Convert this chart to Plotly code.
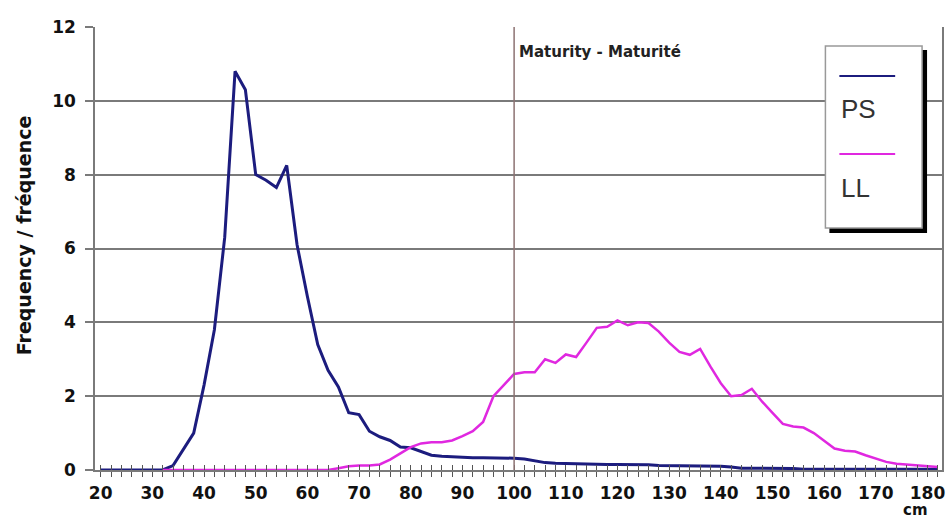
import plotly.graph_objects as go

# ---- data ----
cm = [20, 22, 24, 26, 28, 30, 32, 34, 36, 38, 40, 42, 44, 46, 48, 50, 52, 54, 56, 58,
      60, 62, 64, 66, 68, 70, 72, 74, 76, 78, 80, 82, 84, 86, 88, 90, 92, 94, 96, 98,
      100, 102, 104, 106, 108, 110, 112, 114, 116, 118, 120, 122, 124, 126, 128, 130,
      132, 134, 136, 138, 140, 142, 144, 146, 148, 150, 152, 154, 156, 158, 160, 162,
      164, 166, 168, 170, 172, 174, 176, 178, 180, 182]

ps = [0, 0, 0, 0, 0, 0, 0, 0.12, 0.55, 1.0, 2.3, 3.8, 6.3, 10.8, 10.3, 8.0, 7.85, 7.65, 8.25, 6.1,
      4.7, 3.4, 2.7, 2.25, 1.55, 1.5, 1.05, 0.9, 0.8, 0.62, 0.6, 0.5, 0.4, 0.37, 0.35, 0.34, 0.33, 0.33, 0.33, 0.33,
      0.32, 0.3, 0.25, 0.2, 0.18, 0.17, 0.16, 0.15, 0.15, 0.15, 0.15, 0.15, 0.15, 0.14, 0.12, 0.12,
      0.12, 0.12, 0.11, 0.1, 0.1, 0.08, 0.05, 0.05, 0.05, 0.05, 0.05, 0.04, 0.02, 0.02, 0.02, 0.02,
      0.02, 0.02, 0.02, 0.02, 0.02, 0.02, 0.02, 0.02, 0.02, 0.02]

ll = [None, None, None, None, None, None, 0, 0, 0, 0, 0, 0, 0, 0, 0, 0, 0, 0, 0, 0,
      0, 0, 0, 0.05, 0.1, 0.12, 0.12, 0.15, 0.28, 0.45, 0.62, 0.72, 0.75, 0.75, 0.8, 0.92, 1.05, 1.3, 2.0, 2.3,
      2.6, 2.65, 2.65, 3.0, 2.9, 3.13, 3.06, 3.45, 3.85, 3.88, 4.05, 3.92, 4.0, 3.98, 3.75, 3.45,
      3.2, 3.12, 3.28, 2.8, 2.35, 2.0, 2.03, 2.2, 1.85, 1.55, 1.25, 1.18, 1.15, 1.0, 0.8, 0.58,
      0.52, 0.5, 0.4, 0.3, 0.22, 0.17, 0.15, 0.13, 0.1, 0.08]

series_names = ["PS", "LL"]
series_colors = ["#1c1c7e", "#e028e0"]
maturity_cm = 100
maturity_label = "Maturity - Maturité"
y_title = "Frequency / fréquence"
x_unit = "cm"
x_tick_vals = [20, 30, 40, 50, 60, 70, 80, 90, 100, 110, 120, 130, 140, 150, 160, 170, 180]
y_tick_vals = [0, 2, 4, 6, 8, 10, 12]

assert len(cm) == len(ps) == len(ll)

# ---- layout geometry (pixels) ----
W, H = 950, 522
L, R, T, B = 95, 945, 27, 470
X_RANGE = [18.9, 182.8]


def px(xp):
    return (xp - L) / (R - L)


def py(yp):
    return (B - yp) / (B - T)


TICKFONT = dict(family="DejaVu Sans", size=17, color="#111111")

fig = go.Figure()
fig.add_trace(go.Scatter(x=cm, y=ps, mode="lines", name=series_names[0],
                         line=dict(color=series_colors[0], width=3), showlegend=False))
fig.add_trace(go.Scatter(x=cm, y=ll, mode="lines", name=series_names[1],
                         line=dict(color=series_colors[1], width=2.5), showlegend=False))

grid_col = "#7a7a7a"
fig.update_layout(
    width=W, height=H,
    margin=dict(l=L, r=W - R, t=T, b=H - B),
    paper_bgcolor="white", plot_bgcolor="white",
    xaxis=dict(range=X_RANGE, showgrid=False, zeroline=False,
               showline=True, linecolor=grid_col, linewidth=1.5,
               tickmode="array", tickvals=x_tick_vals,
               ticktext=["<b>%d</b>" % v for v in x_tick_vals],
               ticks="outside", ticklen=5, tickcolor="#555555", tickwidth=1,
               minor=dict(tickmode="array", tickvals=cm, ticks="outside", ticklen=5,
                          tickcolor="#555555", tickwidth=1),
               tickfont=TICKFONT, ticklabelstandoff=2),
    xaxis2=dict(range=X_RANGE, overlaying="x", matches="x", showgrid=False, zeroline=False,
                showticklabels=False, tickmode="array", tickvals=cm,
                ticks="inside", ticklen=5, tickcolor="#555555", tickwidth=1, side="bottom"),
    yaxis=dict(range=[0, 12], showgrid=True, gridcolor=grid_col, gridwidth=1.5,
               zeroline=False, showline=True, mirror=True, linecolor=grid_col, linewidth=1.5,
               tickmode="array", tickvals=y_tick_vals,
               ticktext=["<b>%d</b>" % v for v in y_tick_vals],
               ticks="outside", ticklen=8, tickcolor=grid_col, tickwidth=1.5,
               tickfont=dict(family="DejaVu Sans", size=17, color="#111111"), ticklabelstandoff=6),
)
# dummy trace to activate xaxis2 ticks
fig.add_trace(go.Scatter(x=[cm[0]], y=[None], xaxis="x2", showlegend=False, hoverinfo="skip"))

# maturity line
fig.add_shape(type="line", xref="x", yref="y", x0=maturity_cm, x1=maturity_cm, y0=0, y1=12,
              line=dict(color="#8c7272", width=1.5))
fig.add_annotation(x=maturity_cm, y=py(52), xref="x", yref="paper", text="<b>%s</b>" % maturity_label,
                   showarrow=False, xanchor="left", yanchor="middle", xshift=3,
                   font=dict(family="DejaVu Sans", size=15, color="#222222"))

# axis titles
fig.add_annotation(x=px(24), y=py(235), xref="paper", yref="paper", text="<b>%s</b>" % y_title,
                   showarrow=False, textangle=-90, xanchor="center", yanchor="middle",
                   font=dict(family="DejaVu Sans", size=19, color="#111111"))
fig.add_annotation(x=px(918), y=py(510), xref="paper", yref="paper", text="<b>%s</b>" % x_unit,
                   showarrow=False, xanchor="center", yanchor="middle",
                   font=dict(family="DejaVu Sans", size=15, color="#111111"))

# custom legend box with shadow
fig.add_shape(type="rect", xref="paper", yref="paper", x0=px(832), x1=px(930), y0=py(233), y1=py(50),
              fillcolor="#000000", line=dict(width=0))
fig.add_shape(type="rect", xref="paper", yref="paper", x0=px(828), x1=px(925), y0=py(228), y1=py(46),
              fillcolor="white", line=dict(color="#999999", width=1.5))
leg_line_y = [76, 154]
leg_text_y = [109, 188]
for name, col, ly, ty in zip(series_names, series_colors, leg_line_y, leg_text_y):
    fig.add_shape(type="line", xref="paper", yref="paper", x0=px(842), x1=px(898), y0=py(ly), y1=py(ly),
                  line=dict(color=col, width=2))
    fig.add_annotation(x=px(842), y=py(ty), xref="paper", yref="paper", text=name, showarrow=False,
                       xanchor="left", yanchor="middle",
                       font=dict(family="Liberation Sans", size=26, color="#333333"))

fig.write_html("out.html", config={"displayModeBar": False},
               post_script="document.body.style.margin='0px';document.body.style.padding='0px';")
